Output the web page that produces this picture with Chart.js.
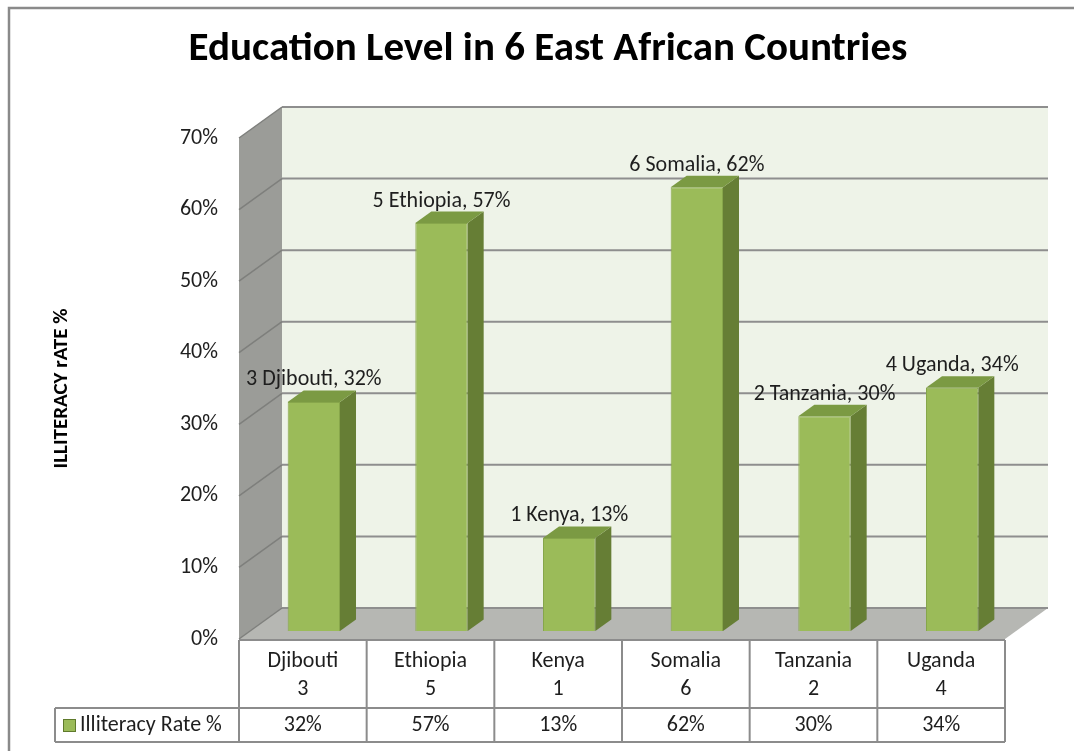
<!DOCTYPE html>
<html>
<head>
<meta charset="utf-8">
<script src="https://cdn.jsdelivr.net/npm/chart.js@4.4.1/dist/chart.umd.min.js"></script>
<style>
  html, body { margin: 0; padding: 0; background: #ffffff; }
  canvas { display: block; }
</style>
</head>
<body>
<canvas id="chart" width="1074" height="751"></canvas>
<script>
// data
const countries = ["Djibouti", "Ethiopia", "Kenya", "Somalia", "Tanzania", "Uganda"];
const ranks = ["3", "5", "1", "6", "2", "4"];
const illiteracy = [32, 57, 13, 62, 30, 34];
const yTicks = [0, 10, 20, 30, 40, 50, 60, 70];
const seriesName = "Illiteracy Rate %";

const FONT = "Carlito, Lato, sans-serif";

// 3d look: depth of the box and of the bars
const depthX = 43, depthY = -31;
const barShiftX = 11, barShiftY = -8;
const barDepthX = 16, barDepthY = -11.5;

const box3d = {
  id: "box3d",
  beforeDraw(chart) {
    const ctx = chart.ctx;
    ctx.save();
    ctx.fillStyle = "#ffffff";
    ctx.fillRect(0, 0, chart.width, chart.height);
    // outer frame (left and top only visible)
    ctx.strokeStyle = "#8a8a8a";
    ctx.lineWidth = 2.5;
    ctx.beginPath();
    ctx.moveTo(9, chart.height + 2);
    ctx.lineTo(9, 8);
    ctx.lineTo(chart.width + 2, 8);
    ctx.stroke();
    ctx.restore();
  },
  beforeDatasetsDraw(chart) {
    const ctx = chart.ctx;
    const a = chart.chartArea;
    const y = chart.scales.y;
    const L = a.left, R = a.right, T = y.getPixelForValue(70), B = y.getPixelForValue(0);
    ctx.save();
    // back wall
    ctx.fillStyle = "#eef3e8";
    ctx.fillRect(L + depthX, T + depthY, R - L, B - T);
    // side wall
    ctx.fillStyle = "#9b9c98";
    ctx.beginPath();
    ctx.moveTo(L, T);
    ctx.lineTo(L + depthX, T + depthY);
    ctx.lineTo(L + depthX, B + depthY);
    ctx.lineTo(L, B);
    ctx.closePath();
    ctx.fill();
    // floor
    ctx.fillStyle = "#b6b7b3";
    ctx.beginPath();
    ctx.moveTo(L, B);
    ctx.lineTo(L + depthX, B + depthY);
    ctx.lineTo(R + depthX, B + depthY);
    ctx.lineTo(R, B);
    ctx.closePath();
    ctx.fill();
    // grid lines on back wall and side wall
    yTicks.forEach(v => {
      const py = y.getPixelForValue(v);
      ctx.strokeStyle = "#8e8e8e";
      ctx.lineWidth = 2;
      ctx.beginPath();
      ctx.moveTo(L + depthX, py + depthY);
      ctx.lineTo(R + depthX, py + depthY);
      ctx.stroke();
      ctx.strokeStyle = "#7e7f7c";
      ctx.lineWidth = 1.5;
      ctx.beginPath();
      ctx.moveTo(L, py);
      ctx.lineTo(L + depthX, py + depthY);
      ctx.stroke();
    });
    ctx.restore();
  },
  beforeDatasetDraw(chart) {
    chart.ctx.save();
    chart.ctx.translate(barShiftX, barShiftY);
  },
  afterDatasetDraw(chart, args) {
    const ctx = chart.ctx;
    args.meta.data.forEach(bar => {
      const p = bar.getProps(["x", "y", "base", "width"], true);
      const l = p.x - p.width / 2, r = p.x + p.width / 2;
      // side face
      ctx.fillStyle = "#667e35";
      ctx.beginPath();
      ctx.moveTo(r, p.y);
      ctx.lineTo(r + barDepthX, p.y + barDepthY);
      ctx.lineTo(r + barDepthX, p.base + barDepthY);
      ctx.lineTo(r, p.base);
      ctx.closePath();
      ctx.fill();
      // top face
      ctx.fillStyle = "#7b9a43";
      ctx.beginPath();
      ctx.moveTo(l, p.y);
      ctx.lineTo(l + barDepthX, p.y + barDepthY);
      ctx.lineTo(r + barDepthX, p.y + barDepthY);
      ctx.lineTo(r, p.y);
      ctx.closePath();
      ctx.fill();
    });
    ctx.restore();
  },
  afterDatasetsDraw(chart) {
    const ctx = chart.ctx;
    const meta = chart.getDatasetMeta(0);
    ctx.save();
    ctx.fillStyle = "#1e1e1e";
    ctx.font = "22px " + FONT;
    ctx.textAlign = "center";
    ctx.textBaseline = "middle";
    meta.data.forEach((bar, i) => {
      const text = ranks[i] + " " + countries[i] + ", " + illiteracy[i] + "%";
      ctx.fillText(text, bar.x + barShiftX, bar.y - 30);
    });
    ctx.restore();
  },
  afterDraw(chart) {
    const ctx = chart.ctx;
    const a = chart.chartArea;
    const x = chart.scales.x;
    const step = (a.right - a.left) / countries.length;
    const top1 = a.bottom + 1, top2 = a.bottom + 69, bot = a.bottom + 103;
    const legendLeft = 55;
    ctx.save();
    // title
    ctx.fillStyle = "#000000";
    ctx.font = "bold 41px " + FONT;
    ctx.textAlign = "center";
    ctx.textBaseline = "middle";
    ctx.fillText("Education Level in 6 East African Countries", 548, 50);

    // data table
    ctx.strokeStyle = "#8c8c8c";
    ctx.lineWidth = 2;
    ctx.beginPath();
    ctx.moveTo(a.left, top1); ctx.lineTo(a.right, top1);
    ctx.moveTo(legendLeft, top2); ctx.lineTo(a.right, top2);
    ctx.moveTo(legendLeft, bot); ctx.lineTo(a.right, bot);
    ctx.moveTo(legendLeft, top2); ctx.lineTo(legendLeft, bot);
    for (let i = 0; i <= countries.length; i++) {
      const bx = a.left + i * step;
      ctx.moveTo(bx, top1); ctx.lineTo(bx, bot);
    }
    ctx.stroke();

    ctx.fillStyle = "#1e1e1e";
    ctx.font = "22px " + FONT;
    countries.forEach((c, i) => {
      const cx = x.getPixelForValue(i);
      ctx.fillText(c, cx, top1 + 21);
      ctx.fillText(ranks[i], cx, top1 + 49);
      ctx.fillText(illiteracy[i] + "%", cx, top2 + 17);
    });
    // legend key
    ctx.fillStyle = "#9bbb59";
    ctx.fillRect(63, top2 + 11, 13, 13);
    ctx.strokeStyle = "#5f7a2c";
    ctx.lineWidth = 1;
    ctx.strokeRect(63.5, top2 + 11.5, 12, 12);
    ctx.fillStyle = "#1e1e1e";
    ctx.textAlign = "left";
    ctx.fillText(seriesName, 80, top2 + 17);
    ctx.restore();
  }
};

new Chart(document.getElementById("chart"), {
  type: "bar",
  plugins: [box3d],
  data: {
    labels: countries,
    datasets: [{
      label: seriesName,
      data: illiteracy,
      backgroundColor: "#9bbb59",
      borderColor: "#87a64b",
      borderWidth: 1,
      barPercentage: 0.41,
      categoryPercentage: 1
    }]
  },
  options: {
    responsive: false,
    devicePixelRatio: 1,
    animation: false,
    layout: { padding: { left: 8, right: 69, top: 138, bottom: 112 } },
    plugins: {
      legend: { display: false },
      tooltip: { enabled: false },
      title: { display: false }
    },
    scales: {
      x: { display: false },
      y: {
        min: 0,
        max: 70,
        afterFit: s => { s.width = 231; },
        afterBuildTicks: s => { s.ticks = yTicks.map(v => ({ value: v })); },
        ticks: {
          callback: v => v + "%",
          color: "#1e1e1e",
          padding: 21,
          font: { size: 22, family: FONT }
        },
        grid: { display: false, drawTicks: false },
        border: { display: false },
        title: {
          display: true,
          text: "ILLITERACY rATE %",
          color: "#000000",
          padding: { top: 41, bottom: 0 },
          font: { size: 21, weight: "bold", family: FONT }
        }
      }
    }
  }
});
</script>
</body>
</html>
